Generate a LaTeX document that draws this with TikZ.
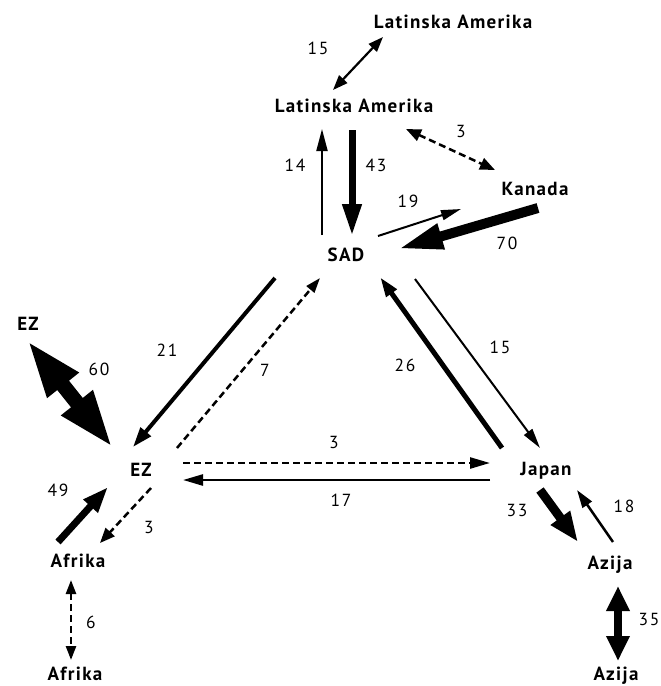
\documentclass[tikz,border=0pt]{standalone}
\usepackage{fontspec}
\setmainfont{PT Sans}
\usetikzlibrary{arrows.meta}
\tikzset{
  region/.style={font=\fontsize{19}{21}\selectfont\bfseries\addfontfeature{LetterSpace=7}, inner sep=0pt, anchor=base},
  num/.style={font=\fontsize{17.5}{19}\selectfont\addfontfeature{LetterSpace=9}, inner sep=0pt},
  flow/.style n args={3}{line width=#1, -{Triangle[length=#2,width=#3]}},
  flowd/.style n args={3}{line width=#1, {Triangle[length=#2,width=#3]}-{Triangle[length=#2,width=#3]}},
  dashline/.style={dash pattern=on 7pt off 4pt}
}
\begin{document}
\begin{tikzpicture}[x=1pt,y=-1pt]
\useasboundingbox (0,0) rectangle (661,686);
% regions (placed by baseline)
\node[region] (la2) at (453,28) {Latinska Amerika};
\node[region] (la) at (354,112) {Latinska Amerika};
\node[region] (kan) at (535,195) {Kanada};
\node[region] (sad) at (346,261) {SAD};
\node[region] (ez2) at (28,330) {EZ};
\node[region] (ez) at (141,476) {EZ};
\node[region] (jap) at (546,475) {Japan};
\node[region] (af) at (78,567) {Afrika};
\node[region] (af2) at (75,680) {Afrika};
\node[region] (az) at (610,569) {Azija};
\node[region] (az2) at (616,680) {Azija};
% endpoints
\coordinate (p15a) at (333,90); \coordinate (p15b) at (383,37);
\coordinate (p14a) at (322,235); \coordinate (p14b) at (322,129);
\coordinate (p43a) at (352,130); \coordinate (p43b) at (352,236);
\coordinate (p3a) at (406,129); \coordinate (p3b) at (495,170);
\coordinate (p19a) at (378,236); \coordinate (p19b) at (461,209);
\coordinate (p70a) at (538,208); \coordinate (p70b) at (398,249);
\coordinate (p21a) at (275,278); \coordinate (p21b) at (133,447);
\coordinate (p7a) at (177,448); \coordinate (p7b) at (320,278);
\coordinate (p26a) at (502,448); \coordinate (p26b) at (380,277);
\coordinate (pj15a) at (415,279); \coordinate (pj15b) at (540,448);
\coordinate (pe3a) at (183,463); \coordinate (pe3b) at (490,463);
\coordinate (p17a) at (490,480); \coordinate (p17b) at (183,480);
\coordinate (p60a) at (27,340); \coordinate (p60b) at (113,448);
\coordinate (p49a) at (58,542); \coordinate (p49b) at (108,487);
\coordinate (pa3a) at (151,488); \coordinate (pa3b) at (100,543);
\coordinate (p6a) at (71,580); \coordinate (p6b) at (71,660);
\coordinate (p33a) at (540,490); \coordinate (p33b) at (578,542);
\coordinate (p18a) at (613,542); \coordinate (p18b) at (577,490);
\coordinate (p35a) at (618,586); \coordinate (p35b) at (618,661);
% arrows
\draw[flowd={2.2pt}{15pt}{11pt}] (p15a) -- (p15b);
\draw[flow={2pt}{22pt}{11pt}] (p14a) -- (p14b);
\draw[flow={7pt}{32pt}{18pt}] (p43a) -- (p43b);
\draw[flowd={2.5pt}{15pt}{12pt}, dashline] (p3a) -- (p3b);
\draw[flow={2pt}{20pt}{10pt}] (p19a) -- (p19b);
\draw[flow={10pt}{45pt}{24pt}] (p70a) -- (p70b);
\draw[flow={4pt}{20pt}{13pt}] (p21a) -- (p21b);
\draw[flow={2.5pt}{15pt}{10pt}, dashline] (p7a) -- (p7b);
\draw[flow={5pt}{20pt}{12pt}] (p26a) -- (p26b);
\draw[flow={2pt}{20pt}{10pt}] (pj15a) -- (pj15b);
\draw[flow={2.5pt}{20pt}{11pt}, dashline] (pe3a) -- (pe3b);
\draw[flow={2.5pt}{20pt}{11pt}] (p17a) -- (p17b);
\draw[flowd={15pt}{58pt}{36pt}] (p60a) -- (p60b);
\draw[flow={7pt}{26pt}{18pt}] (p49a) -- (p49b);
\draw[flow={2.5pt}{15pt}{12pt}, dashline] (pa3a) -- (pa3b);
\draw[flowd={2.5pt}{14pt}{10pt}, dashline] (p6a) -- (p6b);
\draw[flow={9pt}{30pt}{22pt}] (p33a) -- (p33b);
\draw[flow={2.5pt}{18pt}{11pt}] (p18a) -- (p18b);
\draw[flowd={8pt}{25pt}{22pt}] (p35a) -- (p35b);
% labels
\node[num] (l15) at (318,48) {15};
\node[num] (l14) at (295,165) {14};
\node[num] (l43) at (376,165) {43};
\node[num] (l3a) at (461,131) {3};
\node[num] (l19) at (408,201) {19};
\node[num] (l70) at (507,243) {70};
\node[num] (l21) at (167,350) {21};
\node[num] (l7) at (265,370) {7};
\node[num] (l26) at (405,365) {26};
\node[num] (l15b) at (500,347) {15};
\node[num] (l3b) at (334,442) {3};
\node[num] (l17) at (341,500) {17};
\node[num] (l60) at (99,369) {60};
\node[num] (l49) at (58,490) {49};
\node[num] (l3c) at (149,527) {3};
\node[num] (l6) at (91,622) {6};
\node[num] (l33) at (517,510) {33};
\node[num] (l18) at (624,506) {18};
\node[num] (l35) at (649,619) {35};
\end{tikzpicture}
\end{document}
